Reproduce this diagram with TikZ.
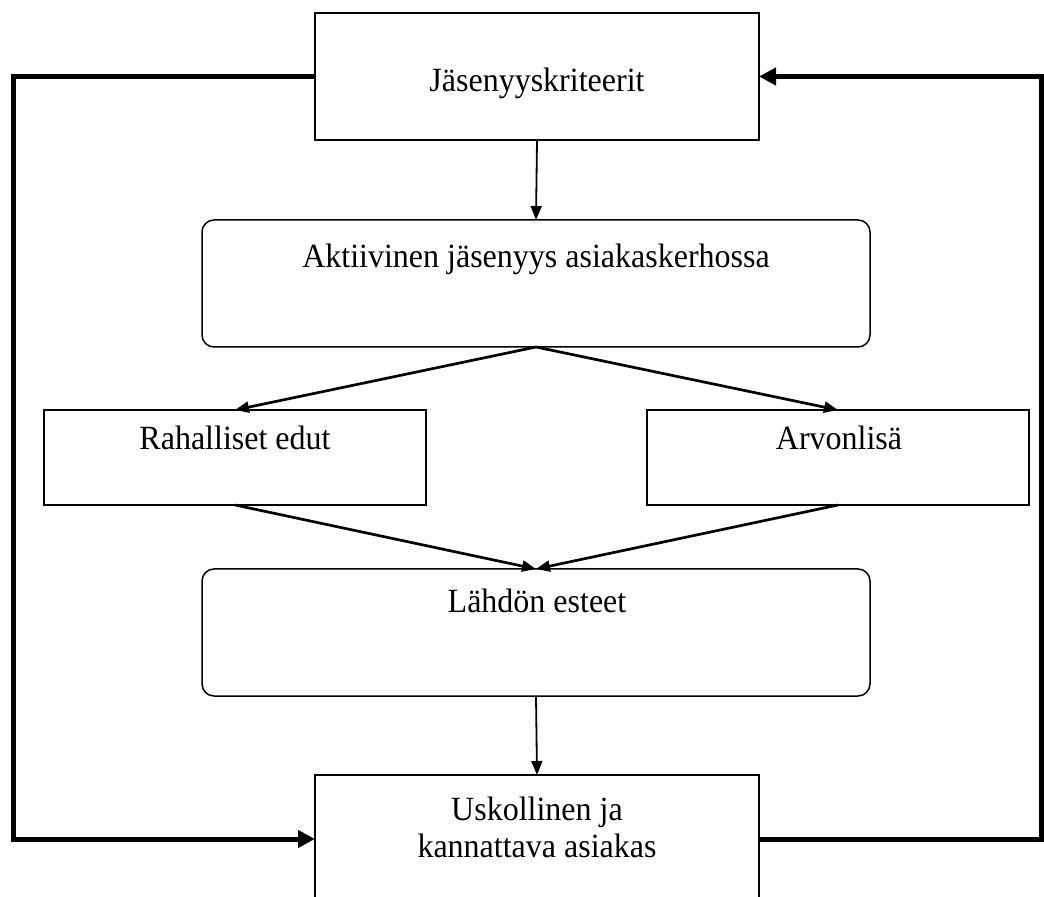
\documentclass[tikz,border=0pt]{standalone}
\usepackage{fontspec}
\setmainfont{Liberation Serif}
\usetikzlibrary{arrows.meta}
\begin{document}
\begin{tikzpicture}[x=0.5pt,y=-0.5pt,
  box/.style={draw=black,line width=0.75pt,inner sep=0pt,outer sep=0pt,fill=white},
  rbox/.style={box,rounded corners=6pt},
  lbl/.style={anchor=base,inner sep=0pt,yscale=1.06,transform shape,font=\fontsize{16}{18.5}\selectfont},
  thinarrow/.style={line width=0.9pt,-{Triangle[length=7pt,width=5.5pt]}},
  midarrow/.style={line width=1.35pt,-{Triangle[length=7pt,width=5.5pt]}},
  thickline/.style={line width=2.5pt},
  thickarrow/.style={thickline,-{Triangle[length=8.5pt,width=8.5pt]}}]
\useasboundingbox (0,0) rectangle (1044,897);
\clip (0,0) rectangle (1044,897);
\fill[white] (0,0) rectangle (1044,897);
% boxes
\node[box,minimum width=222pt,minimum height=63.5pt] (top) at (537,76.5) {};
\node[rbox,minimum width=334pt,minimum height=63.5pt] (akt) at (536,283.5) {};
\node[box,minimum width=191pt,minimum height=47.5pt] (rah) at (235,457.5) {};
\node[box,minimum width=191pt,minimum height=47.5pt] (arv) at (838,457.5) {};
\node[rbox,minimum width=334pt,minimum height=63.5pt] (lah) at (536,632.5) {};
\node[box,minimum width=222pt,minimum height=64pt] (bot) at (537,839) {};
% labels
\node[lbl] (ttop) at (537,92) {Jäsenyyskriteerit};
\node[lbl] (takt) at (536,268) {Aktiivinen jäsenyys asiakaskerhossa};
\node[lbl] (trah) at (235,450) {Rahalliset edut};
\node[lbl] (tarv) at (839,450) {Arvonlisä};
\node[lbl] (tlah) at (537,613) {Lähdön esteet};
\node[lbl] (tbot1) at (537,820) {Uskollinen ja};
\node[lbl] (tbot2) at (537,857) {kannattava asiakas};
% connectors
\draw[thinarrow] (top.south) -- (akt.north);
\draw[midarrow] (akt.south) -- (rah.north);
\draw[midarrow] (akt.south) -- (arv.north);
\draw[midarrow] (rah.south) -- (lah.north);
\draw[midarrow] (arv.south) -- (lah.north);
\draw[thinarrow] (lah.south) -- (bot.north);
% feedback loops
\coordinate (lt) at (13,76.5);
\coordinate (lb) at (13,839);
\coordinate (rt) at (1041,76.5);
\coordinate (rb) at (1041,839);
\draw[thickarrow] (top.west) -- (lt) -- (lb) -- (bot.west);
\draw[thickarrow] (bot.east) -- (rb) -- (rt) -- (top.east);
\end{tikzpicture}
\end{document}
